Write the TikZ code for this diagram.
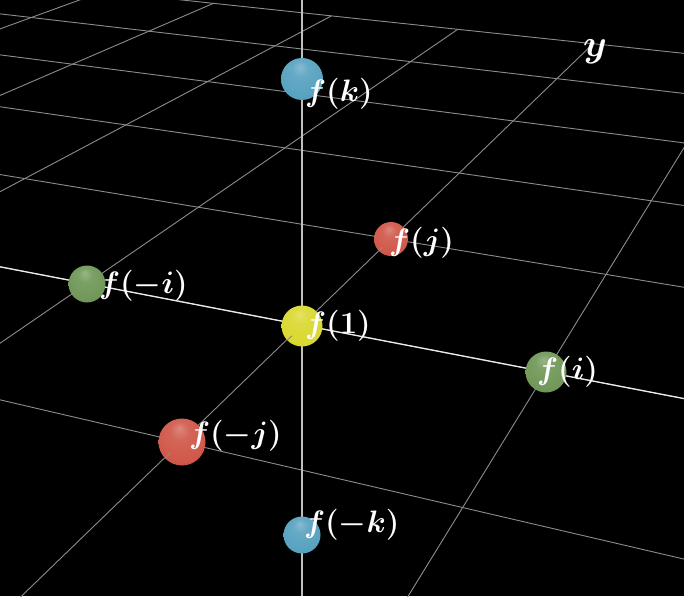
\RequirePackage{fix-cm}
\documentclass[tikz,border=0pt]{standalone}
\usepackage{tikz}
\usetikzlibrary{calc}
\definecolor{orbblue}{RGB}{88,162,192}
\definecolor{orbyellow}{RGB}{218,216,48}
\definecolor{orbred}{RGB}{208,88,74}
\definecolor{orbgreen}{RGB}{112,152,88}
\colorlet{orbcol}{black}
\pgfdeclareradialshading[orbcol]{orbshade}{\pgfpoint{-3bp}{15bp}}{%
  color(0bp)=(orbcol!72!white); color(10bp)=(orbcol!92!white);
  color(28bp)=(orbcol); color(42bp)=(orbcol!82!black);
  color(50bp)=(orbcol!68!black)}
% point (u,v) of the floor, seen in perspective
\newcommand{\flr}[3]{%
  \pgfmathsetmacro\flrw{-0.0632*(#1)+0.1524*(#2)+1}%
  \coordinate (#3) at ({(209.5*(#1)+148.6*(#2)+302)/\flrw},{(23.5*(#1)-49.6*(#2)+325)/\flrw});%
}

\begin{document}
\begin{tikzpicture}[x=1pt, y=-1pt,
    gridln/.style={draw=white!55!black, line width=0.9pt},
    xaxis/.style={draw=white!92!black, line width=1.3pt},
    zaxis/.style={draw=white!75!black, line width=1.8pt},
    orb/.style 2 args={circle, inner sep=0pt, minimum size=#2,
        /utils/exec={\colorlet{orbcol}{#1}}, shading=orbshade},
    lbl/.style={anchor=west, inner sep=0pt, text=white,
        font=\fontsize{31}{38}\selectfont\boldmath}
]
    \useasboundingbox (0,0) rectangle (684,596);
    \fill[black] (0,0) rectangle (684,596);

    % floor grid
    \begin{scope}
        \clip (0,0) rectangle (684,596);
        \foreach \u in {-6,...,3} {
            \flr{\u}{-3}{ga}\flr{\u}{5}{gb}
            \draw[gridln] (ga) -- (gb);
        }
        \foreach \v in {-3,...,5} {
            \flr{-6}{\v}{ga}\flr{3}{\v}{gb}
            \draw[gridln] (ga) -- (gb);
        }
        \flr{-6}{0}{xa}\flr{3}{0}{xb}
        \draw[xaxis] (xa) -- (xb);
    \end{scope}

    \coordinate (ztop) at (302,0);
    \coordinate (zbot) at (302,596);
    \draw[zaxis] (ztop) -- (zbot);

    % spheres
    \node[orb={orbblue}{42pt}] (pk) at (302,79) {};
    \node[orb={orbred}{34pt}] (pj) at (391,239) {};
    \node[orb={orbgreen}{37pt}] (mi) at (87,284) {};
    \node[orb={orbyellow}{41pt}] (one) at (302,326) {};
    \node[orb={orbgreen}{41pt}] (pi) at (546,372) {};
    \node[orb={orbred}{47pt}] (mj) at (182,442) {};
    \node[orb={orbblue}{37pt}] (mk) at (302,535) {};

    % near ends of the floor lines
    \flr{0}{-2}{jfar}\flr{1}{-1}{ifar}\flr{-1}{-1}{mifar}
    \draw[gridln] ($(one.center)!14pt!(mj.center)$) -- ($(one.center)!20pt!(mj.center)$);
    \draw[gridln] ($(pj.center)!12pt!(one.center)$) -- ($(pj.center)!17pt!(one.center)$);
    \draw[gridln] ($(mj.center)!16pt!(jfar)$) -- ($(mj.center)!23pt!(jfar)$);
    \draw[gridln] ($(pi.center)!14pt!(ifar)$) -- ($(pi.center)!20pt!(ifar)$);
    \draw[gridln] ($(mi.center)!13pt!(mifar)$) -- ($(mi.center)!18pt!(mifar)$);

    % labels
    \node[lbl] (lk) at (305,94) {$f(k)$};
    \node[lbl] (lj) at (389,243) {$f(j)$};
    \node[lbl] (lmi) at (99,286) {$f(-i)$};
    \node[lbl] (lone) at (305,326) {$f(1)$};
    \node[lbl] (li) at (537,372) {$f(i)$};
    \node[lbl] (lmj) at (189,436) {$f(-j)$};
    \node[lbl] (lmk) at (304,525) {$f(-k)$};
    \node[lbl, anchor=center, font=\fontsize{38}{46}\selectfont\boldmath] (ylab) at (595,52) {$y$};
\end{tikzpicture}
\end{document}
